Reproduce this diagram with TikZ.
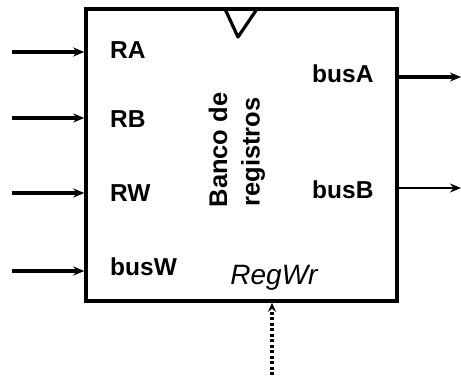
\documentclass[tikz,border=0pt]{standalone}
\usepackage{fontspec}
\setmainfont{Liberation Sans}
\usetikzlibrary{arrows.meta}
\begin{document}
\begin{tikzpicture}[x=1pt,y=-1pt,
  port/.style={font=\bfseries\fontsize{24.5}{26}\selectfont, anchor=west, inner sep=0pt},
  bus/.style={line width=3.2pt, -{Stealth[length=11pt,width=9pt]}},
  title/.style={font=\bfseries\fontsize{25.5}{27}\selectfont, rotate=90, inner sep=0pt}]
\useasboundingbox (0,0) rectangle (461,378);
% register file body
\node[draw, line width=3.5pt, minimum width=311pt, minimum height=292pt, inner sep=0pt]
  (bank) at (241.5,155) {};
% clock input
\coordinate (ck1) at (225,9);
\coordinate (ck2) at (238,37);
\coordinate (ck3) at (257,9);
\draw[line width=3.2pt, line join=round] (ck1) -- (ck2) -- (ck3);
% inputs
\coordinate (ra) at (12,52);
\coordinate (rb) at (12,118);
\coordinate (rw) at (12,193);
\coordinate (bw) at (12,271);
\foreach \c in {ra,rb,rw,bw}
  \draw[bus] (\c) -- (bank.west |- \c);
% outputs
\coordinate (oa) at (461,77);
\coordinate (ob) at (461,188);
\draw[bus] (bank.east |- oa) -- (oa);
\draw[bus, line width=2.4pt] (bank.east |- ob) -- (ob);
% write enable
\coordinate (we) at (272,375);
\draw[line width=3.2pt, dash pattern=on 3pt off 2.5pt, -{Stealth[length=9pt,width=8pt]}]
  (we) -- (bank.south -| we);
% port labels
\node[port] (lra) at (110,50) {RA};
\node[port] (lrb) at (110,119) {RB};
\node[port] (lrw) at (110,193) {RW};
\node[port] (lbw) at (110,267) {busW};
\node[port] (lba) at (312,74) {busA};
\node[port] (lbb) at (312,190) {busB};
\node[font=\itshape\fontsize{28}{30}\selectfont, inner sep=0pt] (lwr) at (274,278) {RegWr};
% name
\node[title] (t1) at (218,150) {Banco de};
\node[title] (t2) at (253,152) {registros};
\end{tikzpicture}
\end{document}
